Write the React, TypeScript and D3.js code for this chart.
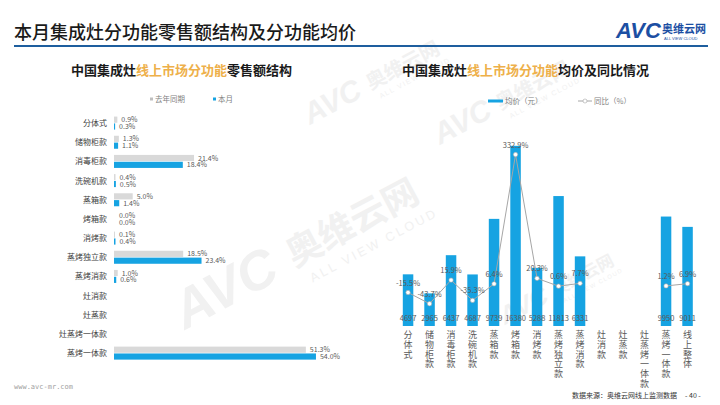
import React, { useRef, useEffect } from "react";
import * as d3 from "d3";

// left chart: share of online retail sales by function
const shareCategories = ["分体式", "储物柜款", "消毒柜款", "洗碗机款", "蒸箱款", "烤箱款", "消烤款", "蒸烤独立款", "蒸烤消款", "灶消款", "灶蒸款", "灶蒸烤一体款", "蒸烤一体款"];
const shareLastYear: (number | null)[] = [0.9, 1.3, 21.4, 0.4, 5.0, 0.0, 0.1, 18.5, 1.0, null, null, null, 51.3];
const shareThisMonth: (number | null)[] = [0.3, 1.1, 18.4, 0.5, 1.4, 0.0, 0.4, 23.4, 0.6, null, null, null, 54.0];

// right chart: average price and yoy
const priceCategories = ["分体式", "储物柜款", "消毒柜款", "洗碗机款", "蒸箱款", "烤箱款", "消烤款", "蒸烤独立款", "蒸烤消款", "灶消款", "灶蒸款", "灶蒸烤一体款", "蒸烤一体款", "线上整体"];
const avgPrice: (number | null)[] = [4697, 2965, 6437, 4687, 9739, 16380, 5288, 11813, 6331, null, null, null, 9950, 9011];
const priceYoY: (number | null)[] = [-15.5, -43.7, 15.9, -35.3, 6.4, 332.9, 20.3, 0.6, 7.7, null, null, null, 1.2, 6.9];

const FONT = "'Noto Sans CJK SC', 'Noto Sans', sans-serif";
const BLUE = "#16a3e2";
const GRAY = "#d9d9d9";
const GOLD = "#eeb04a";

const App = () => {
    const svgRef = useRef(null);

    useEffect(() => {
        const svg = d3.select(svgRef.current);
        svg.selectAll("*").remove();

        // faint watermarks (drawn as paths-free text, very light)
        const wm = (x: number, y: number, s: number) => {
            const g = svg.append("g").attr("transform", `translate(${x},${y}) rotate(-28) scale(${s})`).attr("fill", "#f1f1f1").attr("pointer-events", "none");
            g.append("text").attr("x", 0).attr("y", 0).attr("font-family", "Arial, sans-serif").attr("font-weight", "bold").attr("font-style", "italic").attr("font-size", 60).text("AVC");
            g.append("text").attr("x", 140).attr("y", -4).attr("font-family", FONT).attr("font-weight", "bold").attr("font-size", 40).text("奥维云网");
            g.append("text").attr("x", 150).attr("y", 20).attr("font-family", "Arial, sans-serif").attr("font-size", 14).attr("letter-spacing", 3).text("ALL VIEW CLOUD");
        };
        wm(185, 330, 0.9);
        wm(310, 125, 0.5);
        wm(440, 145, 0.5);
        wm(505, 325, 0.42);

        // header
        svg.append("text").attr("x", 14).attr("y", 39).attr("font-family", FONT).attr("font-size", 18).attr("font-weight", 500).attr("fill", "#1a1a1a").text("本月集成灶分功能零售额结构及分功能均价");
        svg.append("rect").attr("x", 14).attr("y", 45).attr("width", 694).attr("height", 2).attr("fill", "#1e5e9e");
        svg.append("text").attr("x", 616).attr("y", 38).attr("font-family", "Arial, sans-serif").attr("font-weight", "bold").attr("font-style", "italic").attr("font-size", 22).attr("fill", "#1c4fa3").text("AVC");
        svg.append("text").attr("x", 662).attr("y", 33).attr("font-family", FONT).attr("font-weight", "bold").attr("font-size", 11).attr("fill", "#1c4fa3").text("奥维云网");
        svg.append("text").attr("x", 664).attr("y", 40).attr("font-family", "Arial, sans-serif").attr("font-size", 4).attr("fill", "#1c4fa3").text("ALL VIEW CLOUD");

        // titles with gold middle part
        const title = (x: number, parts: [string, string][]) => {
            const t = svg.append("text").attr("x", x).attr("y", 75).attr("font-family", FONT).attr("font-size", 13).attr("font-weight", "bold");
            parts.forEach(([s, c]) => t.append("tspan").attr("fill", c).text(s));
        };
        title(71, [["中国集成灶", "#1a1a1a"], ["线上市场分功能", GOLD], ["零售额结构", "#1a1a1a"]]);
        title(402, [["中国集成灶", "#1a1a1a"], ["线上市场分功能", GOLD], ["均价及同比情况", "#1a1a1a"]]);

        // ---------- left chart ----------
        const yBand = d3.scaleBand().domain(shareCategories).range([113.5, 362.7]);
        const ySub = d3.scaleBand().domain(["last", "this"]).range([yBand.bandwidth() / 2 - 6.5, yBand.bandwidth() / 2 + 6.5]).paddingInner(0.1);
        const xShare = d3.scaleLinear().domain([0, 60]).range([114, 338.4]);

        const left = svg.append("g");
        left.selectAll(".cat").data(shareCategories).enter().append("text")
            .attr("x", 107).attr("y", (d: any) => (yBand(d) as number) + yBand.bandwidth() / 2 + 3)
            .attr("text-anchor", "end").attr("font-family", FONT).attr("font-size", 8).attr("fill", "#404040").text((d: any) => d);

        const drawShare = (vals: (number | null)[], key: string, color: string) => {
            const rows = vals.map((v, i) => ({ v, c: shareCategories[i] })).filter((d) => d.v !== null);
            left.selectAll(`.b-${key}`).data(rows).enter().append("rect")
                .attr("x", xShare(0))
                .attr("y", (d: any) => (yBand(d.c) as number) + (ySub(key) as number))
                .attr("width", (d: any) => Math.max(xShare(d.v) - xShare(0), d.v > 0 ? 1 : 0))
                .attr("height", ySub.bandwidth()).attr("fill", color);
            left.selectAll(`.l-${key}`).data(rows).enter().append("text")
                .attr("x", (d: any) => Math.max(xShare(d.v), xShare(0) + 1) + 4)
                .attr("y", (d: any) => (yBand(d.c) as number) + (ySub(key) as number) + ySub.bandwidth() / 2 + 2.5)
                .attr("font-family", FONT).attr("font-size", 7).attr("fill", "#595959")
                .text((d: any) => `${d.v.toFixed(1)}%`);
        };
        drawShare(shareLastYear, "last", GRAY);
        drawShare(shareThisMonth, "this", BLUE);

        // left legend
        svg.append("rect").attr("x", 150).attr("y", 97.5).attr("width", 3).attr("height", 3).attr("fill", "#bfbfbf");
        svg.append("text").attr("x", 155).attr("y", 101.5).attr("font-family", FONT).attr("font-size", 7.5).attr("fill", "#7f7f7f").text("去年同期");
        svg.append("rect").attr("x", 213).attr("y", 97.5).attr("width", 3).attr("height", 3).attr("fill", BLUE);
        svg.append("text").attr("x", 218).attr("y", 101.5).attr("font-family", FONT).attr("font-size", 7.5).attr("fill", "#7f7f7f").text("本月");

        // ---------- right chart ----------
        const xBand = d3.scaleBand().domain(priceCategories).range([397.3, 698.3]);
        const yPrice = d3.scaleLinear().domain([0, 18000]).range([326, 128]);
        const yYoY = d3.scaleLinear().domain([-100, 400]).range([326, 128]);
        const barW = 10.5;
        const cx = (c: string) => (xBand(c) as number) + xBand.bandwidth() / 2;

        const right = svg.append("g");
        const priceRows = avgPrice.map((v, i) => ({ v, c: priceCategories[i] })).filter((d) => d.v !== null);
        right.selectAll(".pbar").data(priceRows).enter().append("rect")
            .attr("x", (d: any) => cx(d.c) - barW / 2).attr("y", (d: any) => yPrice(d.v))
            .attr("width", barW).attr("height", (d: any) => yPrice(0) - yPrice(d.v)).attr("fill", BLUE);

        // yoy line with gaps
        const yoyRows = priceYoY.map((v, i) => ({ v, c: priceCategories[i] }));
        const line = d3.line<any>().defined((d) => d.v !== null).x((d) => cx(d.c)).y((d) => yYoY(d.v));
        right.append("path").datum(yoyRows).attr("d", line).attr("fill", "none").attr("stroke", "#a6a6a6").attr("stroke-width", 1);
        const yoyDef = yoyRows.filter((d) => d.v !== null);
        right.selectAll(".pt").data(yoyDef).enter().append("circle")
            .attr("cx", (d: any) => cx(d.c)).attr("cy", (d: any) => yYoY(d.v)).attr("r", 2.2)
            .attr("fill", "#ffffff").attr("stroke", "#a6a6a6").attr("stroke-width", 0.6);
        right.selectAll(".yl").data(yoyDef).enter().append("text")
            .attr("x", (d: any) => cx(d.c)).attr("y", (d: any) => yYoY(d.v) - 7)
            .attr("text-anchor", "middle").attr("font-family", FONT).attr("font-size", 7.5).attr("fill", "#595959")
            .text((d: any) => `${d.v.toFixed(1)}%`);

        right.selectAll(".pl").data(priceRows).enter().append("text")
            .attr("x", (d: any) => cx(d.c)).attr("y", yPrice(0) - 5)
            .attr("text-anchor", "middle").attr("font-family", FONT).attr("font-size", 7.5).attr("fill", "#595959")
            .text((d: any) => d.v);

        // vertical category labels
        priceCategories.forEach((c) => {
            const t = right.append("text").attr("font-family", FONT).attr("font-size", 9).attr("fill", "#595959").attr("text-anchor", "middle");
            Array.from(c).forEach((ch, k) => {
                t.append("tspan").attr("x", cx(c)).attr("y", 338 + k * 9.8).text(ch);
            });
        });

        // right legend
        svg.append("rect").attr("x", 488).attr("y", 99.5).attr("width", 15).attr("height", 3).attr("fill", BLUE);
        svg.append("text").attr("x", 505).attr("y", 104).attr("font-family", FONT).attr("font-size", 7.5).attr("fill", "#7f7f7f").text("均价（元）");
        svg.append("line").attr("x1", 578).attr("x2", 592).attr("y1", 101).attr("y2", 101).attr("stroke", "#a6a6a6").attr("stroke-width", 1);
        svg.append("circle").attr("cx", 585).attr("cy", 101).attr("r", 2).attr("fill", "#fff").attr("stroke", "#a6a6a6").attr("stroke-width", 0.6);
        svg.append("text").attr("x", 594).attr("y", 104).attr("font-family", FONT).attr("font-size", 7.5).attr("fill", "#7f7f7f").text("同比（%）");

        // footer
        svg.append("text").attr("x", 14).attr("y", 389).attr("font-family", "'DejaVu Sans Mono', monospace").attr("font-size", 7).attr("fill", "#a0a0a0").text("www.avc-mr.com");
        svg.append("text").attr("x", 572).attr("y", 398).attr("font-family", FONT).attr("font-size", 7).attr("fill", "#333").text("数据来源：奥维云网线上监测数据");
        svg.append("text").attr("x", 685).attr("y", 398).attr("font-family", FONT).attr("font-size", 7).attr("fill", "#333").text("- 40 -");
    }, []);

    return <svg ref={svgRef} width={720} height={405} style={{ position: "absolute", left: 0, top: 0, background: "#fff" }}></svg>;
};

export default App;
